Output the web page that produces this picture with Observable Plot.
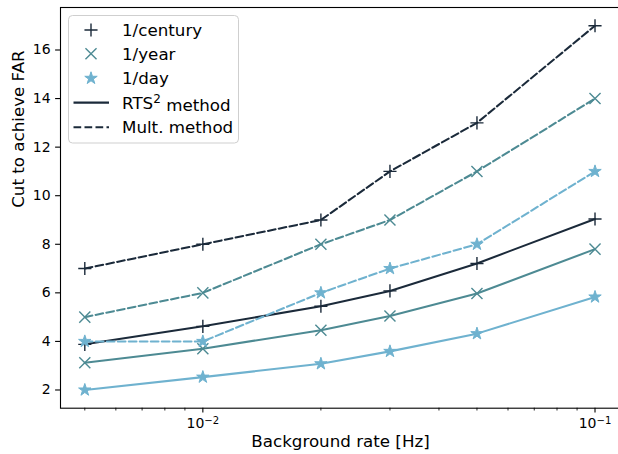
<!DOCTYPE html>
<html><head><meta charset="utf-8">
<script src="https://cdn.jsdelivr.net/npm/d3@7"></script>
<script src="https://cdn.jsdelivr.net/npm/@observablehq/plot@0.6"></script>
<style>
body{margin:0;background:#fff;}
#wrap{position:relative;width:618px;height:454px;font-family:"DejaVu Sans",sans-serif;overflow:hidden;}
#legend{position:absolute;left:0;top:0;pointer-events:none;}
</style></head><body><div id="wrap"></div>
<script>
// ---- data ----
const rates = [0.005, 0.01, 0.02, 0.03, 0.05, 0.1];
const farLabels = ["1/century", "1/year", "1/day"];
const rtsCentury = [3.88, 4.62, 5.45, 6.08, 7.21, 9.04];
const rtsYear = [3.12, 3.70, 4.46, 5.05, 5.97, 7.80];
const rtsDay = [2.0, 2.53, 3.08, 3.59, 4.32, 5.83];
const multCentury = [7, 8, 9, 11, 13, 17];
const multYear = [5, 6, 8, 9, 11, 14];
const multDay = [4, 4, 6, 7, 8, 11];
const methodLabels = ["RTS² method", "Mult. method"];
const yTicks = [2, 4, 6, 8, 10, 12, 14, 16];
const xMajor = [0.01, 0.1];
const xMinor = [0.005, 0.006, 0.007, 0.008, 0.009, 0.02, 0.03, 0.04, 0.05, 0.06, 0.07, 0.08, 0.09];

// ---- styles ----
const colors = ["#1b2a3a", "#4d8a93", "#6fb2cf"];
const symbols = ["plus", "times", "star"];
const symR = [4.3, 5.1, 3.9];
const lw = 2.05;
const dash = "7.7,3.3";

const series = [
  {far: 0, method: 0, vals: rtsCentury},
  {far: 1, method: 0, vals: rtsYear},
  {far: 2, method: 0, vals: rtsDay},
  {far: 0, method: 1, vals: multCentury},
  {far: 1, method: 1, vals: multYear},
  {far: 2, method: 1, vals: multDay}
];
const rows = series.map(s => s.vals.map((v, i) => ({rate: rates[i], cut: v, far: s.far, method: s.method})));

const marks = [];
for (const r of rows) {
  const f = r[0].far, m = r[0].method;
  marks.push(Plot.line(r, {x: "rate", y: "cut", stroke: colors[f], strokeWidth: lw,
    strokeDasharray: m ? dash : null}));
}
for (const r of rows) {
  const f = r[0].far;
  const filled = symbols[f] === "star";
  marks.push(Plot.dot(r, {x: "rate", y: "cut", symbol: symbols[f], r: symR[f],
    stroke: colors[f], strokeWidth: filled ? 1 : 1.4, fill: filled ? colors[f] : "none"}));
}

const chart = Plot.plot({
  width: 618, height: 454,
  marginLeft: 60, marginRight: -2, marginTop: 7, marginBottom: 46.3,
  style: {fontFamily: "DejaVu Sans, sans-serif", background: "#fff", color: "#000"},
  x: {type: "log", domain: [Math.pow(10, -2.363), Math.pow(10, -0.935)], axis: null},
  y: {domain: [1.25, 17.75], axis: null},
  marks: [
    ...marks,
    Plot.frame({stroke: "#000", strokeWidth: 1.1}),
    Plot.axisY({ticks: yTicks, tickSize: 4.9, tickPadding: 5, fontSize: 14, label: null, strokeWidth: 1.1}),
    Plot.axisX({ticks: xMinor, tickSize: 2.8, tickFormat: () => "", label: null, strokeWidth: 0.85}),
    Plot.axisX({ticks: xMajor, tickSize: 4.9, tickPadding: 5, fontSize: 14, label: null, strokeWidth: 1.1,
      tickFormat: d => "10^" + Math.round(Math.log10(d))}),
    Plot.text(["Cut to achieve FAR"], {frameAnchor: "left", rotate: -90, dx: -42, fontSize: 16.7, text: d => d}),
    Plot.text(["Background rate [Hz]"], {frameAnchor: "bottom", dy: 38.5, fontSize: 16.7, text: d => d})
  ]
});

// superscript exponents in tick labels
chart.querySelectorAll("text").forEach(t => {
  const m = /^10\^(-?\d+)$/.exec(t.textContent);
  if (m) {
    const e = m[1].replace("-", "\u2212");
    while (t.firstChild) t.removeChild(t.firstChild);
    const ns = "http://www.w3.org/2000/svg";
    const a = document.createElementNS(ns, "tspan"); a.textContent = "10";
    const b = document.createElementNS(ns, "tspan"); b.textContent = e;
    b.setAttribute("dy", "-0.45em"); b.setAttribute("font-size", "0.72em");
    t.appendChild(a); t.appendChild(b);
  }
});

const wrap = document.getElementById("wrap");
wrap.appendChild(chart);

// ---- legend overlay ----
const lg = d3.select(wrap).append("svg").attr("id", "legend").attr("width", 618).attr("height", 454)
  .style("font-family", "DejaVu Sans, sans-serif");
lg.append("rect").attr("x", 68.5).attr("y", 15.5).attr("width", 170).attr("height", 127.5).attr("rx", 4)
  .attr("fill", "rgba(255,255,255,0.8)").attr("stroke", "#cfcfcf").attr("stroke-width", 1);
const rowY = [30, 53.8, 78.3, 102.6, 127.2];
farLabels.forEach((lab, i) => {
  const filled = symbols[i] === "star";
  const sym = {plus: d3.symbolPlus, times: d3.symbolTimes, star: d3.symbolStar}[symbols[i]];
  lg.append("path").attr("transform", `translate(91,${rowY[i]})`)
    .attr("d", d3.symbol(sym, symR[i] * symR[i] * Math.PI)())
    .attr("fill", filled ? colors[i] : "none").attr("stroke", colors[i]).attr("stroke-width", filled ? 1 : 1.4);
  lg.append("text").attr("x", 122).attr("y", rowY[i]).attr("dy", "0.36em").attr("font-size", 16.7).text(lab);
});
methodLabels.forEach((lab, j) => {
  const y = rowY[3 + j];
  lg.append("line").attr("x1", 73.5).attr("x2", 109).attr("y1", y).attr("y2", y)
    .attr("stroke", colors[0]).attr("stroke-width", lw).attr("stroke-dasharray", j ? dash : null);
  const t = lg.append("text").attr("x", 122).attr("y", y).attr("dy", "0.36em").attr("font-size", 16.7);
  if (j === 0) {
    t.append("tspan").text("RTS");
    t.append("tspan").attr("dy", "-0.45em").attr("font-size", "0.72em").text("2");
    t.append("tspan").attr("dy", "0.45em").text(" method");
  } else t.text(lab);
});
</script></body></html>
